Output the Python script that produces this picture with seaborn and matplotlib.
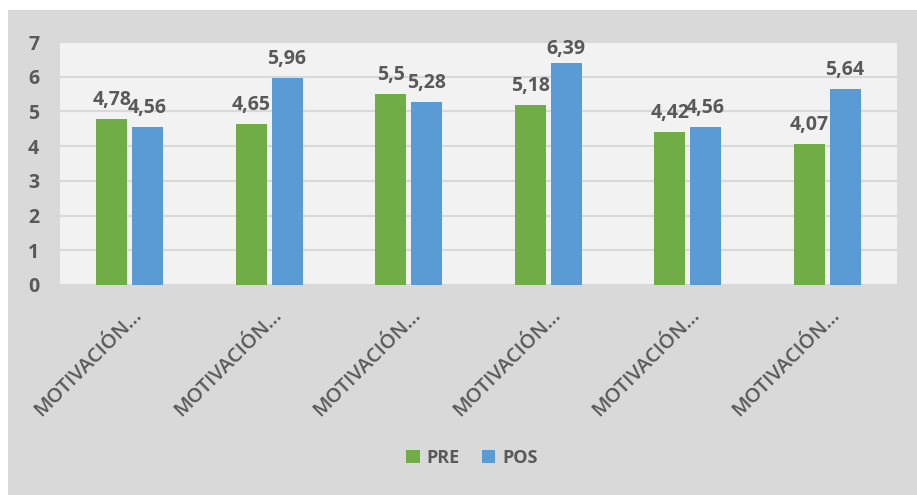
import matplotlib
matplotlib.use("Agg")
import matplotlib.pyplot as plt
import matplotlib.transforms as mtransforms
from matplotlib.patches import Rectangle
import seaborn as sns
import pandas as pd

# Chart data
categories = ["M1", "M2", "M3", "M4", "M5", "M6"]
tick_labels = ["MOTIVACIÓN…"] * 6
series_names = ["PRE", "POS"]
pre_values = [4.78, 4.65, 5.5, 5.18, 4.42, 4.07]
pos_values = [4.56, 5.96, 5.28, 6.39, 4.56, 5.64]
value_labels_pre = ["4,78", "4,65", "5,5", "5,18", "4,42", "4,07"]
value_labels_pos = ["4,56", "5,96", "5,28", "6,39", "4,56", "5,64"]
y_ticks = [0, 1, 2, 3, 4, 5, 6, 7]

colors = {"PRE": "#70ad47", "POS": "#5b9bd5"}
text_color = "#595959"

df = pd.DataFrame({
    "cat": categories * 2,
    "serie": [series_names[0]] * 6 + [series_names[1]] * 6,
    "valor": pre_values + pos_values,
})

sns.set_theme(style="white")
plt.rcParams["font.family"] = ["Open Sans", "DejaVu Sans"]

W, H = 917, 495
fig = plt.figure(figsize=(W / 100, H / 100), dpi=100, facecolor="white")

# chart area background
fig.patches.append(Rectangle((8 / W, 0), 1, 1 - 10 / H, transform=fig.transFigure,
                             facecolor="#d9d9d9", edgecolor="none", zorder=-10))

ax = fig.add_axes([60 / W, (H - 285) / H, 837 / W, 243 / H])
ax.set_facecolor("#f2f2f2")

sns.barplot(data=df, x="cat", y="valor", hue="serie", order=categories,
            hue_order=series_names, palette=colors, width=0.51, gap=0.13,
            saturation=1, linewidth=0, ax=ax, legend=False)

ax.set_ylim(0, 7)
ax.set_xlim(-0.5, 5.5)
ax.set_yticks(y_ticks)
ax.yaxis.grid(True, color="#d9d9d9", linewidth=1.5)
ax.set_axisbelow(True)
for s in ax.spines.values():
    s.set_visible(False)
ax.set_xlabel("")
ax.set_ylabel("")
ax.tick_params(axis="both", length=0)
ax.tick_params(axis="y", pad=15)
for lab in ax.get_yticklabels():
    lab.set_fontsize(14)
    lab.set_fontweight("bold")
    lab.set_color(text_color)

ax.set_xticks(range(len(categories)))
ax.set_xticklabels(tick_labels, rotation=45, ha="right", rotation_mode="anchor",
                   fontsize=14.5, fontweight="semibold", color=text_color)
offset = mtransforms.ScaledTranslation(2 / 100, -15 / 100, fig.dpi_scale_trans)
for lab in ax.get_xticklabels():
    lab.set_transform(lab.get_transform() + offset)

# value labels above bars (kept inside the top of the chart)
for container, labels in zip(ax.containers, [value_labels_pre, value_labels_pos]):
    for bar, txt in zip(container, labels):
        y = min(bar.get_height() + 0.40, 6.65)
        ax.text(bar.get_x() + bar.get_width() / 2, y, txt, ha="center",
                va="baseline", fontsize=14, fontweight="bold", color=text_color)

# legend
handles = [Rectangle((0, 0), 1, 1, facecolor=colors[n], edgecolor="none") for n in series_names]
leg = fig.legend(handles, series_names, loc="center", bbox_to_anchor=(472 / W, 1 - 458 / H),
                 ncol=2, frameon=False, handlelength=0.75, handleheight=0.75,
                 handletextpad=0.4, columnspacing=1.2,
                 prop={"size": 13, "weight": "bold"})
for t in leg.get_texts():
    t.set_color(text_color)

fig.savefig("out.png", dpi=100, facecolor="white")
